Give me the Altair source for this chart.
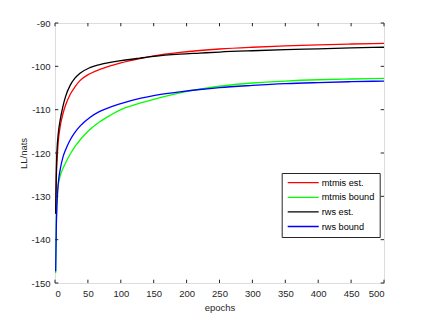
import altair as alt
import pandas as pd

epochs = [1, 2, 3, 5, 8, 12, 16, 23, 30, 38, 53, 68, 84, 100, 129, 150, 190, 220, 250, 300, 350, 400, 450, 500]

mtmis_est = [-134, -126, -122, -117.3, -113.8, -111.0, -109.0, -106.5, -104.8, -103.3, -101.7, -100.7, -99.9,
             -99.2, -98.2, -97.6, -96.8, -96.35, -96.0, -95.6, -95.3, -95.05, -94.85, -94.7]
mtmis_bound = [-147.7, -136, -130, -127.3, -125.2, -123.6, -122.3, -120.3, -118.6, -117.0, -114.6, -112.8, -111.3,
               -110.0, -108.5, -107.6, -106.1, -105.25, -104.6, -103.85, -103.4, -103.1, -102.92, -102.8]
rws_est = [-134, -124, -119.5, -115.5, -112.3, -109.3, -107.0, -104.4, -102.8, -101.6, -100.3, -99.6, -99.1,
           -98.7, -98.1, -97.7, -97.2, -96.95, -96.7, -96.4, -96.15, -95.95, -95.75, -95.6]
rws_bound = [-147.3, -137, -132, -127, -123.7, -121.0, -119.3, -117.0, -115.3, -113.8, -111.8, -110.4, -109.4,
             -108.6, -107.4, -106.75, -105.9, -105.35, -104.9, -104.4, -104.0, -103.75, -103.55, -103.4]

series_names = ["mtmis est.", "mtmis bound", "rws est.", "rws bound"]
series_colors = ["#ff0000", "#00ff00", "#000000", "#0000ff"]

x_ticks = [0, 50, 100, 150, 200, 250, 300, 350, 400, 450, 500]
y_ticks = [-150, -140, -130, -120, -110, -100, -90]

rows = []
for name, vals in zip(series_names, [mtmis_est, mtmis_bound, rws_est, rws_bound]):
    for e, v in zip(epochs, vals):
        rows.append({"epoch": e, "ll": v, "series": name})
df = pd.DataFrame(rows)

W, H = 329, 260
FONT = "Liberation Sans"
AX = "#262626"

xscale = alt.Scale(domain=[0, 500], nice=False, zero=False)
yscale = alt.Scale(domain=[-150, -90], nice=False, zero=False)

x_axis = alt.Axis(values=x_ticks, title="epochs", ticks=False, tickSize=0, domain=False, grid=False,
                  labelOverlap=False, labelExpr="'' + datum.value",
                  labelPadding=5, titlePadding=5, labelFontSize=9.5, titleFontSize=9.5,
                  labelColor=AX, titleColor=AX, labelFont=FONT, titleFont=FONT,
                  titleFontWeight="normal")
y_axis = alt.Axis(values=y_ticks, title="LL/nats", ticks=False, tickSize=0, domain=False, grid=False,
                  labelOverlap=False, labelExpr="'' + datum.value",
                  labelPadding=5, titlePadding=2, labelFontSize=9.5, titleFontSize=9.5,
                  labelColor=AX, titleColor=AX, labelFont=FONT, titleFont=FONT,
                  titleFontWeight="normal")

lines = alt.Chart(df).mark_line(strokeWidth=1.3, interpolate="monotone").encode(
    x=alt.X("epoch:Q", scale=xscale, axis=x_axis, title="epochs"),
    y=alt.Y("ll:Q", scale=yscale, axis=y_axis, title="LL/nats"),
    color=alt.Color("series:N",
                    scale=alt.Scale(domain=series_names, range=series_colors),
                    sort=series_names,
                    legend=alt.Legend(title=None, orient="none", legendX=226.7, legendY=150,
                                      symbolType="stroke", symbolSize=961, symbolStrokeWidth=1.3,
                                      clipHeight=9.4, columnPadding=0, columns=1,
                                      labelFontSize=9.2, labelFont=FONT, labelColor="#000000",
                                      labelOffset=2, rowPadding=4.6, padding=5,
                                      strokeColor=AX, fillColor="white", cornerRadius=0)),
    detail="series:N",
)

xt = pd.DataFrame({"t": x_ticks})
yt = pd.DataFrame({"t": y_ticks})

tick_bottom = alt.Chart(xt).mark_rule(color=AX, strokeWidth=1).encode(
    x=alt.X("t:Q", scale=xscale, axis=x_axis, title="epochs"), y=alt.value(H), y2=alt.value(H - 3.3))
tick_top = alt.Chart(xt).mark_rule(color=AX, strokeWidth=1).encode(
    x=alt.X("t:Q", scale=xscale, axis=x_axis, title="epochs"), y=alt.value(0), y2=alt.value(3.3))
tick_left = alt.Chart(yt).mark_rule(color=AX, strokeWidth=1).encode(
    y=alt.Y("t:Q", scale=yscale, axis=y_axis, title="LL/nats"), x=alt.value(0), x2=alt.value(3.3))
tick_right = alt.Chart(yt).mark_rule(color=AX, strokeWidth=1).encode(
    y=alt.Y("t:Q", scale=yscale, axis=y_axis, title="LL/nats"), x=alt.value(W), x2=alt.value(W - 3.3))

chart = alt.layer(lines, tick_bottom, tick_top, tick_left, tick_right).properties(
    width=W, height=H,
    autosize=alt.AutoSizeParams(type="none"),
    padding={"left": 47, "top": 15, "right": 32, "bottom": 33},
).configure_view(stroke=AX, strokeWidth=1).configure(background="white")

chart.save("out.html", embed_options={"renderer": "svg", "actions": False})
